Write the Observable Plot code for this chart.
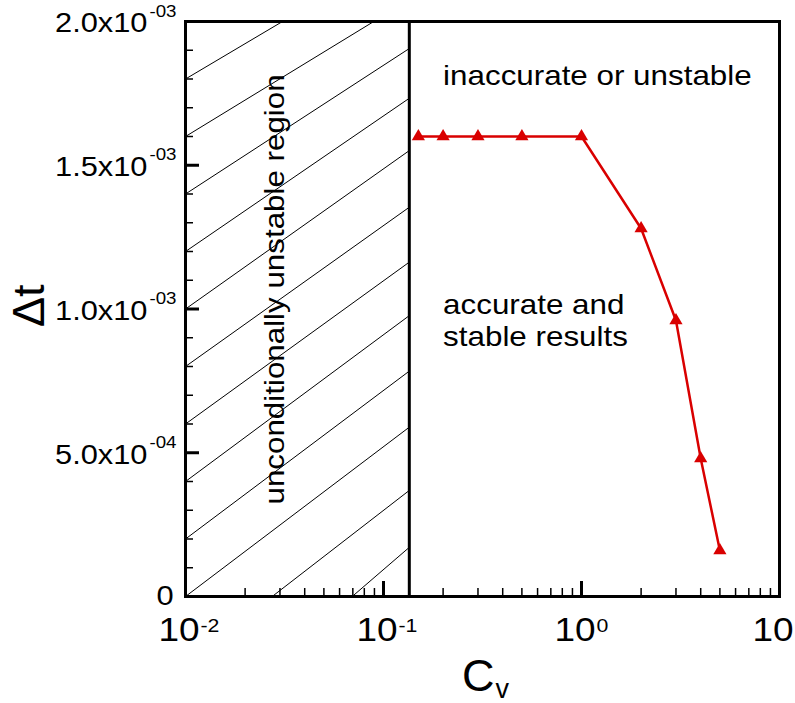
<!DOCTYPE html>
<html>
<head>
<meta charset="utf-8">
<script src="https://cdn.jsdelivr.net/npm/d3@7"></script>
<script src="https://cdn.jsdelivr.net/npm/@observablehq/plot@0.6"></script>
<style>
  html, body { margin: 0; padding: 0; background: #fff; }
</style>
</head>
<body>
<script>
// ---- data ----
const cv = [0.15, 0.2, 0.3, 0.5, 1, 2, 3, 4, 5];
const dt = [1.6e-3, 1.6e-3, 1.6e-3, 1.6e-3, 1.6e-3, 1.28e-3, 0.96e-3, 0.48e-3, 0.16e-3];

// stability limit (left of it: unconditionally unstable)
const cvLimit = 0.135;

// hatch lines of the unstable region (data units: Cv, Δt)
const hatchX1 = [0.01, 0.01, 0.01, 0.01, 0.01, 0.01, 0.01, 0.01, 0.01, 0.01, 0.0274, 0.0695];
const hatchY1 = [1.8e-3, 1.6e-3, 1.4e-3, 1.2e-3, 1.0e-3, 0.8e-3, 0.6e-3, 0.4e-3, 0.2e-3, 0, 0, 0];
const hatchX2 = [0.0309, 0.0893, cvLimit, cvLimit, cvLimit, cvLimit, cvLimit, cvLimit, cvLimit, cvLimit, cvLimit, cvLimit];
const hatchY2 = [2e-3, 2e-3, 1.906e-3, 1.733e-3, 1.551e-3, 1.354e-3, 1.163e-3, 0.977e-3, 0.784e-3, 0.589e-3, 0.369e-3, 0.171e-3];

// axis ticks and labels
const xTickValues = [0.01, 0.1, 1, 10];
const xTickMain = ["10", "10", "10", "10"];
const xTickSup = ["-2", "-1", "0", "1"];
const yTickValues = [0, 5e-4, 1e-3, 1.5e-3, 2e-3];
const yTickMain = ["0", "5.0x10", "1.0x10", "1.5x10", "2.0x10"];
const yTickSup = ["", "-04", "-03", "-03", "-03"];

// annotations
const noteText = ["inaccurate or unstable", "accurate and", "stable results"];
const noteX = [0.2, 0.2, 0.2];
const noteY = [1.78e-3, 0.984e-3, 0.873e-3];
const regionText = ["unconditionally unstable region"];
const regionX = [0.0285];
const regionY = [1.068e-3];

const xTitle = "C";
const xTitleSub = "v";
const yTitle = "Δt";

// ---- tables ----
const series = cv.map((c, i) => ({cv: c, dt: dt[i]}));
const hatch = hatchX1.map((x1, i) => ({x1, y1: hatchY1[i], x2: hatchX2[i], y2: hatchY2[i]}));
const yLabels = yTickValues.map((v, i) => ({v, main: yTickMain[i], sup: yTickSup[i]}));
const xLabels = xTickValues.map((v, i) => ({v, main: xTickMain[i], sup: xTickSup[i]}));
const notes = noteText.map((t, i) => ({text: t, x: noteX[i], y: noteY[i]}));
const region = regionText.map((t, i) => ({text: t, x: regionX[i], y: regionY[i]}));
const yMinor = d3.range(1, 20).filter(i => i % 5 !== 0).map(i => i * 1e-4);
const xMinor = [0.01, 0.1, 1].flatMap(d => d3.range(2, 10).map(k => k * d));

const red = "#d90000";
const W = 795, H = 703, mL = 185, mR = 16, mT = 21, mB = 107;
const fw = W - mL - mR, fh = H - mT - mB;

const chart = Plot.plot({
  width: W, height: H,
  marginLeft: mL, marginRight: mR, marginTop: mT, marginBottom: mB,
  x: {type: "log", domain: [0.01, 10], axis: null},
  y: {domain: [0, 0.002], axis: null},
  style: {fontFamily: "'Liberation Sans', Arial, Helvetica, sans-serif", background: "white", overflow: "visible"},
  marks: [
    Plot.link(hatch, {x1: "x1", y1: "y1", x2: "x2", y2: "y2", stroke: "black", strokeWidth: 1}),
    Plot.ruleX([cvLimit], {stroke: "black", strokeWidth: 3}),
    Plot.tickY(yMinor, {y: d => d, insetRight: fw - 8, stroke: "black", strokeWidth: 1.5}),
    Plot.tickY(yTickValues, {y: d => d, insetRight: fw - 14, stroke: "black", strokeWidth: 3}),
    Plot.tickX(xMinor, {x: d => d, insetTop: fh - 8, stroke: "black", strokeWidth: 1.5}),
    Plot.tickX(xTickValues, {x: d => d, insetTop: fh - 15, stroke: "black", strokeWidth: 3}),
    Plot.frame({stroke: "black", strokeWidth: 3}),
    Plot.line(series, {x: "cv", y: "dt", stroke: red, strokeWidth: 2.5}),
    Plot.dot(series, {x: "cv", y: "dt", symbol: "triangle", r: 4.9, fill: red, stroke: null}),

    // y tick labels
    Plot.text(yLabels.filter(d => d.sup), {y: "v", text: "main", frameAnchor: "left", textAnchor: "end", dx: -38, dy: 2, fontSize: 28, ariaDescription: "stretch 1.1"}),
    Plot.text(yLabels.filter(d => d.sup), {y: "v", text: "sup", frameAnchor: "left", textAnchor: "end", lineAnchor: "bottom", dx: -9, dy: -5, fontSize: 17, ariaDescription: "stretch 1.1"}),
    Plot.text(yLabels.filter(d => !d.sup), {y: "v", text: "main", frameAnchor: "left", textAnchor: "end", lineAnchor: "bottom", dx: -12, dy: 8, fontSize: 28, ariaDescription: "stretch 1.1"}),

    // x tick labels
    Plot.text(xLabels, {x: "v", text: "main", frameAnchor: "bottom", textAnchor: "end", lineAnchor: "bottom", dx: 14, dy: 44, fontSize: 33, ariaDescription: "stretch 1.12"}),
    Plot.text(xLabels, {x: "v", text: "sup", frameAnchor: "bottom", textAnchor: "start", lineAnchor: "bottom", dx: 15, dy: 35, fontSize: 19, ariaDescription: "stretch 1.12"}),

    // axis titles
    Plot.text([yTitle], {frameAnchor: "left", rotate: -90, dx: -156, dy: 18, fontSize: 45}),
    Plot.text([xTitle], {frameAnchor: "bottom", textAnchor: "end", lineAnchor: "bottom", dx: 12, dy: 94, fontSize: 45}),
    Plot.text([xTitleSub], {frameAnchor: "bottom", textAnchor: "start", lineAnchor: "bottom", dx: 13, dy: 101, fontSize: 27}),

    // annotations
    Plot.text(notes, {x: "x", y: "y", text: "text", textAnchor: "start", lineAnchor: "bottom", fontSize: 28, ariaDescription: "stretch 1.12"}),
    Plot.text(region, {x: "x", y: "y", text: "text", rotate: -90, fontSize: 27, ariaDescription: "stretch 1.16"})
  ]
});

document.body.append(chart);

// widen glyphs slightly (reference font is wider than Arial metrics)
for (const g of chart.querySelectorAll('g[aria-description^="stretch"]')) {
  const f = +g.getAttribute("aria-description").split(" ")[1];
  for (const t of g.querySelectorAll("text")) {
    const L = t.getComputedTextLength();
    if (L > 0) {
      t.setAttribute("textLength", (L * f).toFixed(2));
      t.setAttribute("lengthAdjust", "spacingAndGlyphs");
    }
  }
}
</script>
</body>
</html>
